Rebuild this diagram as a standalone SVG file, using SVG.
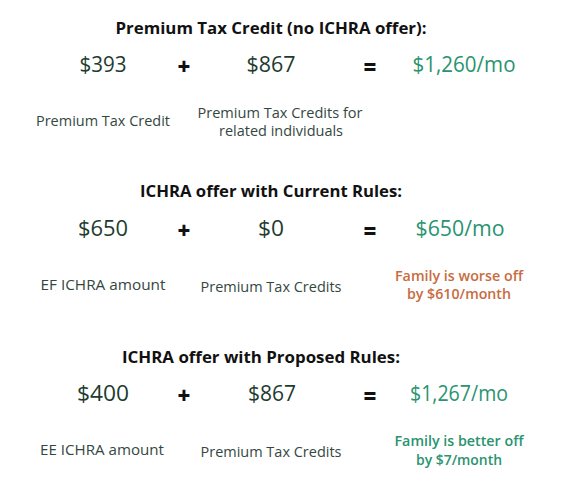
<svg xmlns="http://www.w3.org/2000/svg" width="562" height="483" viewBox="0 0 562 483">
<style>
text{font-family:"Open Sans","Liberation Sans",sans-serif;text-anchor:middle}
.t{font-size:16px;font-weight:700;fill:#111}
.v{font-size:21px;fill:#1e3b30}
.op{font-size:22px;font-weight:800;fill:#111}
.r{font-size:21px;fill:#2a9370}
.l{font-size:14.3px;fill:#34473f}
.bad{font-size:14px;font-weight:600;fill:#c86b40}
.good{font-size:14px;font-weight:600;fill:#2a9370}
</style>
<rect width="562" height="483" fill="#fff"/>
<g id="section1">
<text class="t" x="271" y="34" textLength="311" lengthAdjust="spacingAndGlyphs">Premium Tax Credit (no ICHRA offer):</text>
<text class="v" x="103" y="72" textLength="47" lengthAdjust="spacingAndGlyphs">$393</text>
<text class="op" x="184" y="75">+</text>
<text class="v" x="271" y="72" textLength="49" lengthAdjust="spacingAndGlyphs">$867</text>
<text class="op" x="370" y="75">=</text>
<text class="r" x="464" y="72" textLength="103" lengthAdjust="spacingAndGlyphs">$1,260/mo</text>
<text class="l" x="103" y="126" textLength="134" lengthAdjust="spacingAndGlyphs">Premium Tax Credit</text>
<text class="l" x="280" y="118" textLength="165" lengthAdjust="spacingAndGlyphs">Premium Tax Credits for</text>
<text class="l" x="281" y="136" textLength="124" lengthAdjust="spacingAndGlyphs">related individuals</text>
</g>
<g id="section2">
<text class="t" x="271" y="197" textLength="262" lengthAdjust="spacingAndGlyphs">ICHRA offer with Current Rules:</text>
<text class="v" x="103" y="236" textLength="50" lengthAdjust="spacingAndGlyphs">$650</text>
<text class="op" x="184" y="239">+</text>
<text class="v" x="271" y="236" textLength="26" lengthAdjust="spacingAndGlyphs">$0</text>
<text class="op" x="370" y="239">=</text>
<text class="r" x="460" y="236" textLength="89" lengthAdjust="spacingAndGlyphs">$650/mo</text>
<text class="l" x="103" y="290" textLength="125" lengthAdjust="spacingAndGlyphs">EF ICHRA amount</text>
<text class="l" x="271" y="292" textLength="141" lengthAdjust="spacingAndGlyphs">Premium Tax Credits</text>
<text class="bad" x="459" y="281" textLength="128" lengthAdjust="spacingAndGlyphs">Family is worse off</text>
<text class="bad" x="459" y="299" textLength="104" lengthAdjust="spacingAndGlyphs">by $610/month</text>
</g>
<g id="section3">
<text class="t" x="261" y="363" textLength="278" lengthAdjust="spacingAndGlyphs">ICHRA offer with Proposed Rules:</text>
<text class="v" x="103" y="401" textLength="52" lengthAdjust="spacingAndGlyphs">$400</text>
<text class="op" x="184" y="404">+</text>
<text class="v" x="272" y="401" textLength="48" lengthAdjust="spacingAndGlyphs">$867</text>
<text class="op" x="370" y="404">=</text>
<text class="r" x="459" y="401" textLength="98" lengthAdjust="spacingAndGlyphs">$1,267/mo</text>
<text class="l" x="102" y="455" textLength="124" lengthAdjust="spacingAndGlyphs">EE ICHRA amount</text>
<text class="l" x="271" y="457" textLength="141" lengthAdjust="spacingAndGlyphs">Premium Tax Credits</text>
<text class="good" x="459" y="446" textLength="129" lengthAdjust="spacingAndGlyphs">Family is better off</text>
<text class="good" x="459" y="465" textLength="86" lengthAdjust="spacingAndGlyphs">by $7/month</text>
</g>
</svg>
